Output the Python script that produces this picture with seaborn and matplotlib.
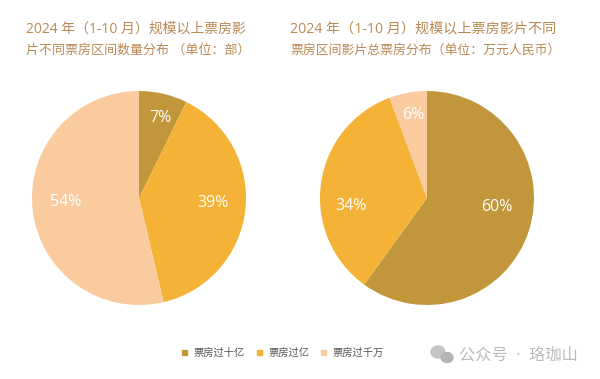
import matplotlib
matplotlib.use("Agg")
import matplotlib.pyplot as plt
from matplotlib.patches import Ellipse
import seaborn as sns

categories = ["票房过十亿", "票房过亿", "票房过千万"]
count_share = [7.3, 39.0, 53.7]
gross_share = [60.0, 34.3, 5.7]
colors = ["#C2963A", "#F4B236", "#FACB9E"]
title_left = ["2024 年（1-10 月）规模以上票房影", "片不同票房区间数量分布 （单位：部）"]
title_right = ["2024 年（1-10 月）规模以上票房影片不同", "票房区间影片总票房分布（单位：万元人民币）"]
watermark = "公众号  ·  珞珈山"

sns.set_theme(style="white")
plt.rcParams["font.family"] = ["Open Sans", "Noto Sans CJK SC", "DejaVu Sans"]
palette = sns.color_palette(colors)

W, H = 600, 379
fig = plt.figure(figsize=(W / 100, H / 100), dpi=100, facecolor="white")
R = 107


def draw_pie(cx, cy, values, label_px):
    ax = fig.add_axes([(cx - R) / W, 1 - (cy + R) / H, 2 * R / W, 2 * R / H])
    _, _, autotexts = ax.pie(
        values, colors=palette, startangle=90, counterclock=False, radius=1,
        wedgeprops=dict(linewidth=0),
        autopct=lambda p: f"{p:.0f}%",
        textprops=dict(color="white", fontsize=11.5),
    )
    ax.set_xlim(-1, 1)
    ax.set_ylim(-1, 1)
    for t, (px, py) in zip(autotexts, label_px):
        t.set_position(((px - cx) / R, (cy - py) / R))
    return ax


draw_pie(139, 198, count_share, [(160, 118), (213, 203), (66, 202)])
draw_pie(427, 198, gross_share, [(497, 207), (351, 206), (413, 115)])

for text, x, y, size in [(title_left[0], 26, 29, 10.0), (title_left[1], 26, 50, 9.4),
                         (title_right[0], 290, 29, 10.15), (title_right[1], 290, 50, 9.25)]:
    fig.text(x / W, 1 - y / H, text, color="#B98A52", fontsize=size, va="center", ha="left")

# legend
for x, label, c in zip([182, 257, 321], categories, palette):
    fig.add_artist(plt.Rectangle((x / W, 1 - 355 / H), 5 / W, 5 / H, color=c,
                                 transform=fig.transFigure))
    fig.text((x + 11.5) / W, 1 - 353 / H, label, color="#555555", fontsize=7.4,
             va="center", ha="left")

# watermark
fig.add_artist(Ellipse((438 / W, 1 - 352 / H), 14 / W, 12 / H, color="#C4C4C4",
                       transform=fig.transFigure))
fig.add_artist(Ellipse((447 / W, 1 - 357.5 / H), 12 / W, 10 / H, color="#B4B4B4",
                       transform=fig.transFigure))
fig.text(459 / W, 1 - 355 / H, watermark, color="#BBBBBB", fontsize=11.7,
         va="center", ha="left")

fig.savefig("out.png", dpi=100)
